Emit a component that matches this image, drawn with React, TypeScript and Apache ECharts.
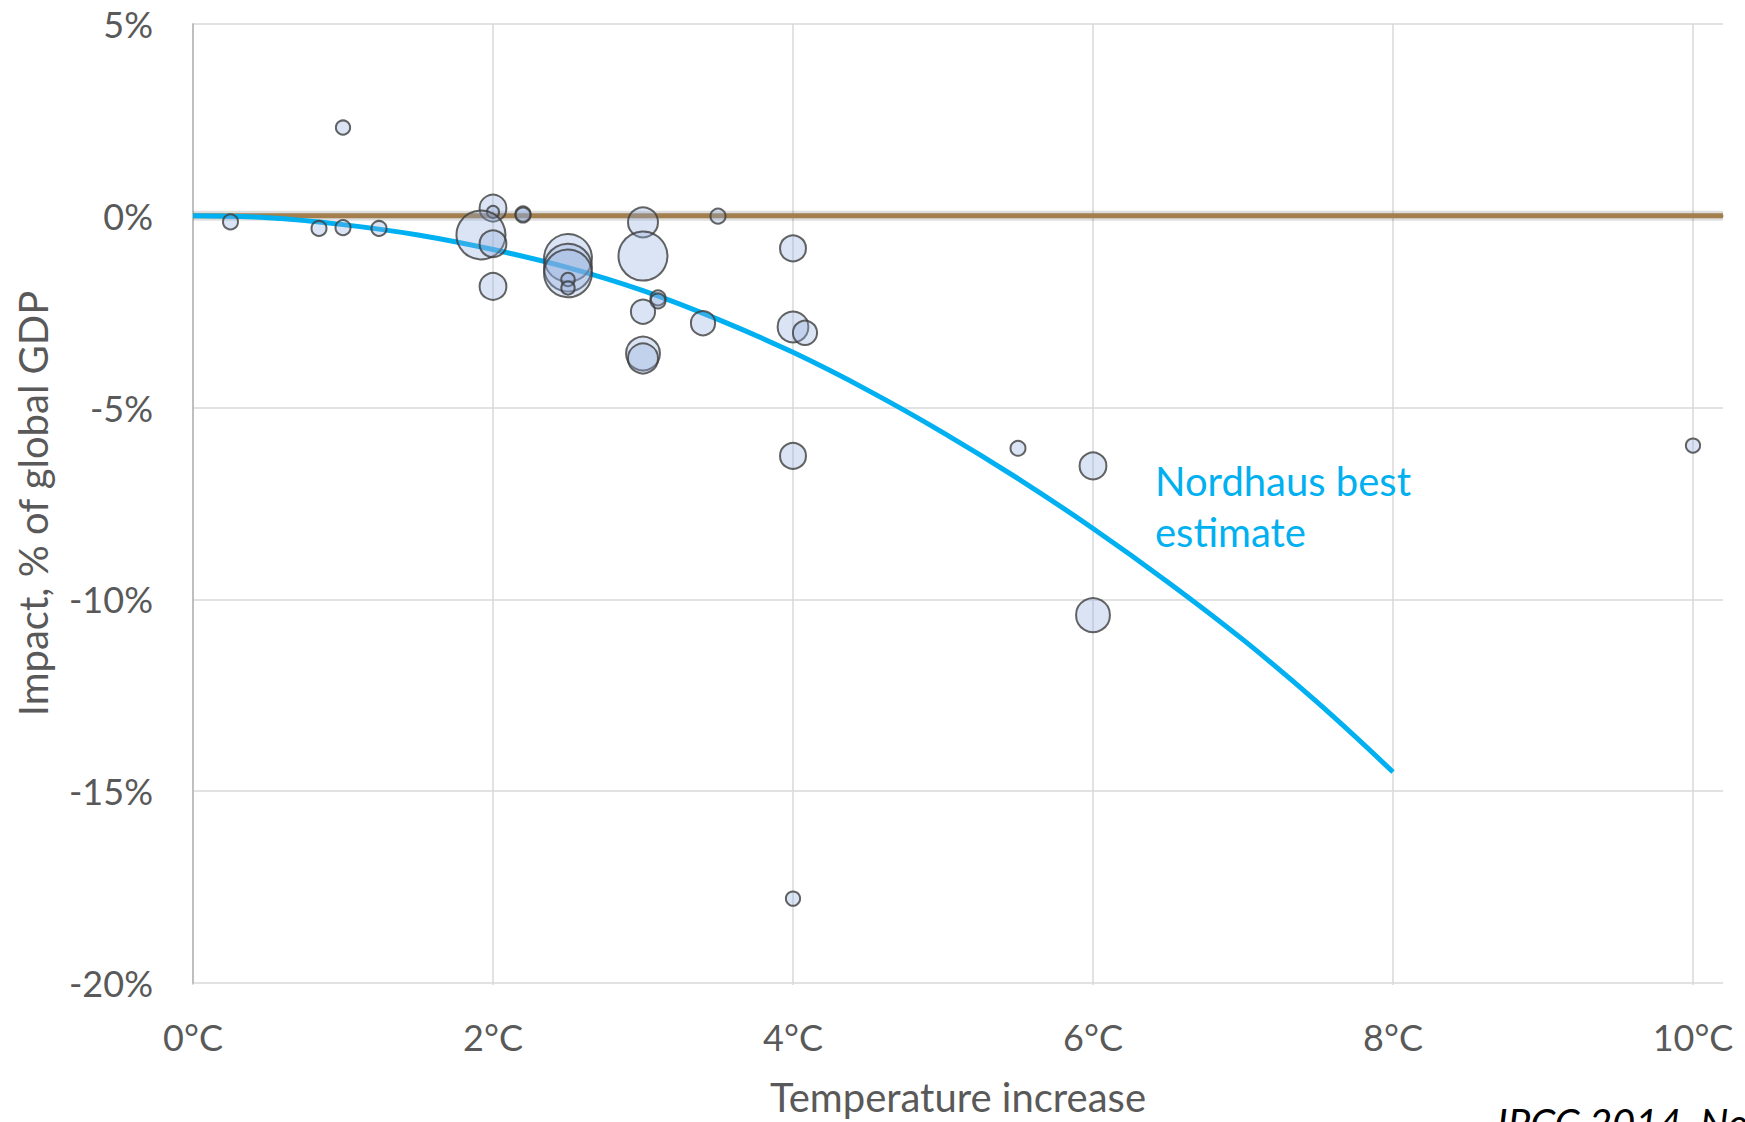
import React, { useEffect, useRef } from "react";
import * as echarts from "echarts";

// Studies: temperature increase (°C), impact (% of global GDP), relative weight (bubble size)
const studyTemp = [0.25, 1.0, 0.84, 1.0, 1.24, 2.0, 2.0, 1.92, 2.0, 2.0, 2.2, 2.2, 2.5, 2.5, 2.5, 2.5, 2.5, 3.0, 3.0, 3.1, 3.1, 3.0, 3.0, 3.0, 3.4, 3.5, 4.0, 4.0, 4.08, 4.0, 5.5, 6.0, 6.0, 4.0, 10.0];
const studyImpact = [-0.16, 2.3, -0.33, -0.31, -0.33, 0.2, 0.1, -0.5, -0.73, -1.84, 0.05, 0.02, -1.1, -1.35, -1.5, -1.66, -1.88, -0.17, -1.05, -2.14, -2.22, -2.5, -3.59, -3.72, -2.8, -0.01, -0.85, -2.9, -3.05, -6.26, -6.06, -6.52, -10.41, -17.8, -5.99];
const studyWeight = [1, 0.9, 1, 1, 1, 3.2, 0.65, 10.7, 3.2, 3.2, 1, 1, 10.2, 10.2, 10.2, 0.8, 0.8, 4, 10.7, 1, 1, 2.6, 5.1, 4, 2.6, 1, 3, 4.2, 2.6, 3, 1, 3.2, 5.1, 0.9, 0.9];

// Nordhaus best estimate curve
const curveTemp = [0, 0.5, 1, 1.5, 2, 2.5, 3, 3.5, 4, 4.5, 5, 5.5, 6, 6.5, 7, 7.5, 8];
const curveImpact = [0, -0.05, -0.23, -0.5, -0.88, -1.35, -1.95, -2.7, -3.56, -4.55, -5.65, -6.85, -8.15, -9.55, -11.05, -12.7, -14.5];

// Zero reference line
const zeroTemp = [0, 10.2];
const zeroImpact = [0, 0];

const xTicks = [0, 2, 4, 6, 8, 10];
const yTicks = [5, 0, -5, -10, -15, -20];

const FONT = "Lato";
const GRAY = "#595959";

export default function App() {
  const ref = useRef<HTMLDivElement>(null);

  useEffect(() => {
    if (!ref.current) return;
    const chart = echarts.init(ref.current, null, { renderer: "svg" });

    const bubbles = studyTemp.map((t, i) => [t, studyImpact[i], studyWeight[i]]);
    const curve = curveTemp.map((t, i) => [t, curveImpact[i]]);
    const zero = zeroTemp.map((t, i) => [t, zeroImpact[i]]);

    chart.setOption({
      animation: false,
      backgroundColor: "#ffffff",
      textStyle: { fontFamily: FONT },
      grid: [
        { left: 193, right: 22, top: 24, bottom: 137, containLabel: false },
        { left: 193, right: 52, top: 24, bottom: 137, containLabel: false },
      ],
      xAxis: [
        {
          type: "value",
          gridIndex: 0,
          min: xTicks[0],
          max: 10.2,
          interval: 2,
          name: "Temperature increase",
          nameLocation: "middle",
          nameGap: 94,
          nameTextStyle: { color: GRAY, fontSize: 40, fontFamily: FONT, verticalAlign: "top" },
          axisLine: { show: true, lineStyle: { color: "#BFBFBF", width: 2 } },
          axisTick: { show: false },
          splitLine: { show: false },
          axisLabel: {
            color: GRAY,
            fontSize: 36,
            fontFamily: FONT,
            margin: 36,
            formatter: (v: number) => (xTicks.indexOf(v) >= 0 ? v + "°C" : ""),
          },
        },
        {
          type: "value",
          gridIndex: 1,
          min: xTicks[0],
          max: xTicks[xTicks.length - 1],
          interval: 2,
          axisLine: { show: false },
          axisTick: { show: false },
          axisLabel: { show: false },
          splitLine: { show: true, lineStyle: { color: "#D9D9D9", width: 1.5 } },
        },
      ],
      yAxis: [
        {
          type: "value",
          gridIndex: 0,
          min: yTicks[yTicks.length - 1],
          max: yTicks[0],
          interval: 5,
          name: "Impact, % of global GDP",
          nameLocation: "middle",
          nameGap: 140,
          nameRotate: 90,
          nameTextStyle: { color: GRAY, fontSize: 40, fontFamily: FONT },
          axisLine: { show: true, lineStyle: { color: "#BFBFBF", width: 2 } },
          axisTick: { show: false },
          splitLine: { show: true, lineStyle: { color: "#D9D9D9", width: 1.5 } },
          axisLabel: {
            color: GRAY,
            fontSize: 36,
            fontFamily: FONT,
            margin: 40,
            formatter: (v: number) => v + "%",
          },
        },
        {
          type: "value",
          gridIndex: 1,
          min: yTicks[yTicks.length - 1],
          max: yTicks[0],
          interval: 5,
          show: false,
          splitLine: { show: false },
        },
      ],
      graphic: [
        {
          type: "text",
          left: 1155,
          top: 455,
          style: {
            text: "Nordhaus best\nestimate",
            fill: "#00B0F0",
            font: `40px ${FONT}`,
            lineHeight: 51,
          },
          z: 10,
        },
        {
          type: "text",
          left: 1497,
          top: 1103,
          style: {
            text: "IPCC 2014, Nordhaus 2013",
            fill: "#000000",
            font: `italic 40px ${FONT}`,
          },
          z: 10,
        },
      ],
      series: [
        {
          type: "line",
          xAxisIndex: 0,
          yAxisIndex: 0,
          data: zero,
          symbol: "none",
          silent: true,
          z: 2,
          lineStyle: { color: "rgba(0,0,0,0.13)", width: 10 },
        },
        {
          type: "line",
          xAxisIndex: 0,
          yAxisIndex: 0,
          data: zero,
          symbol: "none",
          z: 3,
          lineStyle: { color: "#A27F4D", width: 5 },
        },
        {
          type: "line",
          xAxisIndex: 0,
          yAxisIndex: 0,
          data: curve,
          smooth: 0.4,
          symbol: "none",
          z: 4,
          lineStyle: { color: "#00B0F0", width: 5 },
        },
        {
          type: "scatter",
          xAxisIndex: 0,
          yAxisIndex: 0,
          data: bubbles,
          z: 5,
          symbol: "circle",
          symbolSize: (v: number[]) => 15 * Math.sqrt(v[2]),
          itemStyle: {
            color: "rgba(143,170,220,0.4)",
            borderColor: "#3d3d3d",
            borderWidth: 2,
          },
        },
      ],
    });

    return () => chart.dispose();
  }, []);

  return (
    <div
      ref={ref}
      style={{ position: "fixed", left: 0, top: 0, width: 1745, height: 1122, background: "#fff" }}
    />
  );
}
